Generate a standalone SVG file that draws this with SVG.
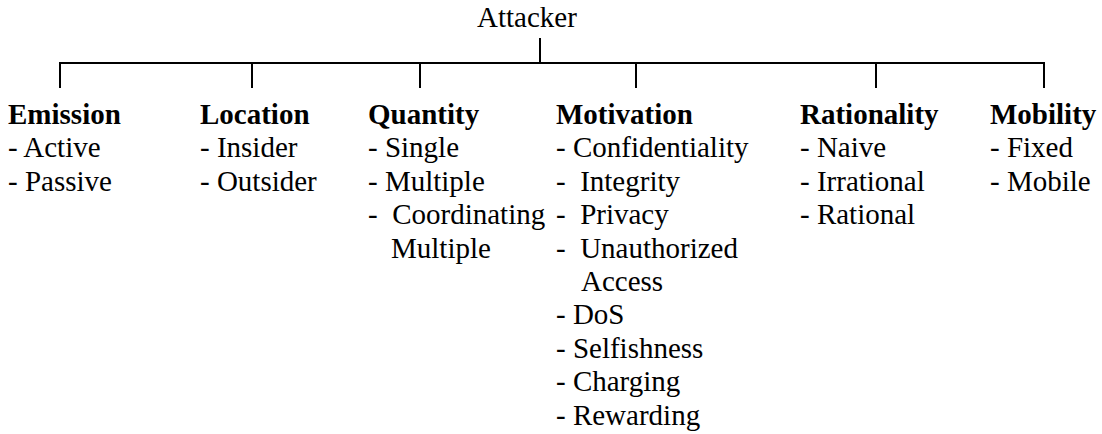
<svg xmlns="http://www.w3.org/2000/svg" width="1102" height="434" viewBox="0 0 1102 434">
  <style>
    text { font-family: "Liberation Serif", "Times New Roman", serif; font-size: 29px; fill: #000; white-space: pre; }
    .head { font-weight: bold; }
    .link { stroke: #000; stroke-width: 2; fill: none; }
  </style>
  <rect width="1102" height="434" fill="#fff"/>

  <!-- tree connectors -->
  <g id="connectors">
    <line class="link" x1="540" y1="38" x2="540" y2="63"/>
    <line class="link" x1="59" y1="63" x2="1045" y2="63"/>
    <line class="link" x1="60" y1="63" x2="60" y2="88"/>
    <line class="link" x1="252" y1="63" x2="252" y2="88"/>
    <line class="link" x1="420" y1="63" x2="420" y2="88"/>
    <line class="link" x1="636" y1="63" x2="636" y2="88"/>
    <line class="link" x1="876" y1="63" x2="876" y2="88"/>
    <line class="link" x1="1044" y1="63" x2="1044" y2="88"/>
  </g>

  <g id="attacker">
    <text x="477" y="27">Attacker</text>
  </g>

  <g id="emission">
    <text class="head" x="8" y="124">Emission</text>
    <text x="8" y="157">- Active</text>
    <text x="8" y="191">- Passive</text>
  </g>

  <g id="location">
    <text class="head" x="200" y="124">Location</text>
    <text x="200" y="157">- Insider</text>
    <text x="200" y="191">- Outsider</text>
  </g>

  <g id="quantity">
    <text class="head" x="368" y="124">Quantity</text>
    <text x="368" y="157">- Single</text>
    <text x="368" y="191">- Multiple</text>
    <text x="368" y="224">-  Coordinating</text>
    <text x="391" y="258">Multiple</text>
  </g>

  <g id="motivation">
    <text class="head" x="556" y="124">Motivation</text>
    <text x="556" y="157">- Confidentiality</text>
    <text x="556" y="191">-  Integrity</text>
    <text x="556" y="224">-  Privacy</text>
    <text x="556" y="258">-  Unauthorized</text>
    <text x="581" y="291">Access</text>
    <text x="556" y="324">- DoS</text>
    <text x="556" y="358">- Selfishness</text>
    <text x="556" y="391">- Charging</text>
    <text x="556" y="425">- Rewarding</text>
  </g>

  <g id="rationality">
    <text class="head" x="800" y="124">Rationality</text>
    <text x="800" y="157">- Naive</text>
    <text x="800" y="191">- Irrational</text>
    <text x="800" y="224">- Rational</text>
  </g>

  <g id="mobility">
    <text class="head" x="990" y="124">Mobility</text>
    <text x="990" y="157">- Fixed</text>
    <text x="990" y="191">- Mobile</text>
  </g>
</svg>
